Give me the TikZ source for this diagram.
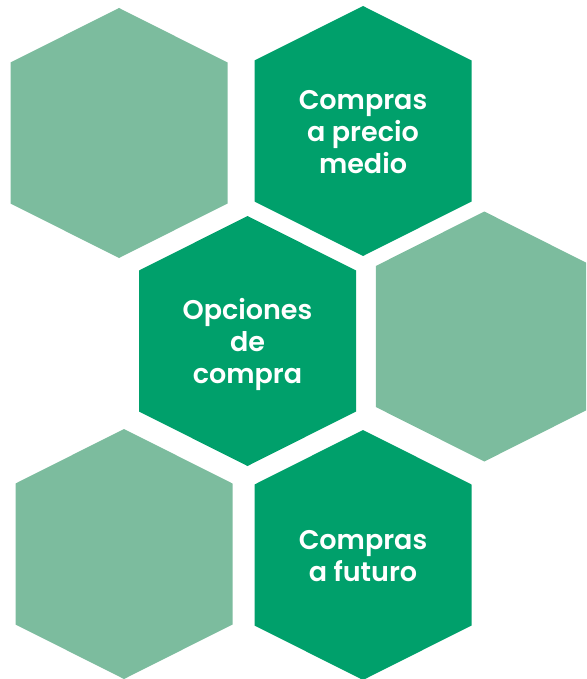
\documentclass[tikz,border=0pt]{standalone}
\usepackage{fontspec}
\setmainfont{Poppins}[BoldFont={Poppins SemiBold}]
\definecolor{hexdark}{RGB}{0,160,107}
\definecolor{hexlight}{RGB}{124,188,158}
\begin{document}
\begin{tikzpicture}[x=1pt,y=-1pt,
  hexa/.pic={\fill (0,-125) -- (108.5,-70.5) -- (108.5,70.5) -- (0,125)
     -- (-108.5,70.5) -- (-108.5,-70.5) -- cycle;},
  label/.style={text=white, align=center, anchor=base, inner sep=0pt,
     font=\fontsize{27}{32}\selectfont\bfseries}]
  \useasboundingbox (0,0) rectangle (586,679);
  \clip (0,0) rectangle (586,679);
  % hexagon centres
  \coordinate (h1) at (119,133);
  \coordinate (h2) at (363,131);
  \coordinate (h3) at (247.5,341);
  \coordinate (h4) at (484.3,336.5);
  \coordinate (h5) at (124,554);
  \coordinate (h6) at (363,555);
  \pic[hexlight] at (h1) {hexa};
  \pic[hexdark]  at (h2) {hexa};
  \pic[hexdark]  at (h3) {hexa};
  \pic[hexlight] at (h4) {hexa};
  \pic[hexlight] at (h5) {hexa};
  \pic[hexdark]  at (h6) {hexa};
  % labels, placed by the baseline of their last line
  \node[label] (t2) at ([yshift=-42.5]h2) {Compras\\a precio\\medio};
  \node[label] (t3) at ([yshift=-42.5]h3) {Opciones\\de\\compra};
  \node[label] (t6) at ([yshift=-26.5]h6) {Compras\\a futuro};
\end{tikzpicture}
\end{document}
